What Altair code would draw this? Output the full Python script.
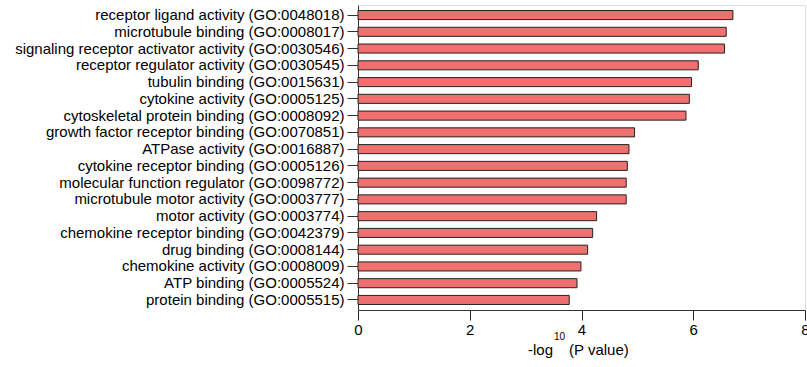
import altair as alt
import pandas as pd

terms = [
    "receptor ligand activity (GO:0048018)",
    "microtubule binding (GO:0008017)",
    "signaling receptor activator activity (GO:0030546)",
    "receptor regulator activity (GO:0030545)",
    "tubulin binding (GO:0015631)",
    "cytokine activity (GO:0005125)",
    "cytoskeletal protein binding (GO:0008092)",
    "growth factor receptor binding (GO:0070851)",
    "ATPase activity (GO:0016887)",
    "cytokine receptor binding (GO:0005126)",
    "molecular function regulator (GO:0098772)",
    "microtubule motor activity (GO:0003777)",
    "motor activity (GO:0003774)",
    "chemokine receptor binding (GO:0042379)",
    "drug binding (GO:0008144)",
    "chemokine activity (GO:0008009)",
    "ATP binding (GO:0005524)",
    "protein binding (GO:0005515)",
]
values = [6.71, 6.59, 6.56, 6.09, 5.97, 5.93, 5.87, 4.95, 4.85,
          4.82, 4.80, 4.80, 4.27, 4.20, 4.11, 3.99, 3.92, 3.78]
x_ticks = [0, 2, 4, 6, 8]

df = pd.DataFrame({"term": terms, "value": values})

FONT = "Liberation Sans"

bars = alt.Chart(df).mark_bar(
    fill="#F07070", stroke="#222222", strokeWidth=1
).encode(
    x=alt.X("value:Q",
            scale=alt.Scale(domain=[0, 8], nice=False),
            axis=alt.Axis(values=x_ticks, title=None, grid=False,
                          tickSize=10, tickColor="#222222", domainColor="#333333",
                          labelFontSize=15, labelFont=FONT, labelColor="#000000",
                          labelPadding=2, labelFlush=False)),
    y=alt.Y("term:N", sort=terms,
            scale=alt.Scale(paddingInner=0.46, paddingOuter=0.33),
            axis=alt.Axis(title=None, tickSize=11, tickColor="#333333",
                          domainColor="#333333", labelFontSize=15, labelFont=FONT,
                          labelColor="#000000", labelPadding=3, labelLimit=400)),
)

t1 = alt.Chart(pd.DataFrame({"t": ["-log"]})).mark_text(
    align="right", baseline="alphabetic", fontSize=15, font=FONT, color="#000000"
).encode(text="t:N", x=alt.value(195), y=alt.value(350))

t2 = alt.Chart(pd.DataFrame({"t": ["10"]})).mark_text(
    align="left", baseline="middle", fontSize=10, font=FONT, color="#000000"
).encode(text="t:N", x=alt.value(196), y=alt.value(332))

t3 = alt.Chart(pd.DataFrame({"t": ["(P value)"]})).mark_text(
    align="left", baseline="alphabetic", fontSize=15, font=FONT, color="#000000"
).encode(text="t:N", x=alt.value(211), y=alt.value(350))

chart = alt.layer(bars, t1, t2, t3).properties(
    width=447, height=305,
    autosize=alt.AutoSizeParams(type="none"),
    padding={"left": 358, "top": 5, "right": 2, "bottom": 57},
).configure_view(stroke=None).configure(background="white")

chart.save("out.html", embed_options={"renderer": "svg", "actions": False})
